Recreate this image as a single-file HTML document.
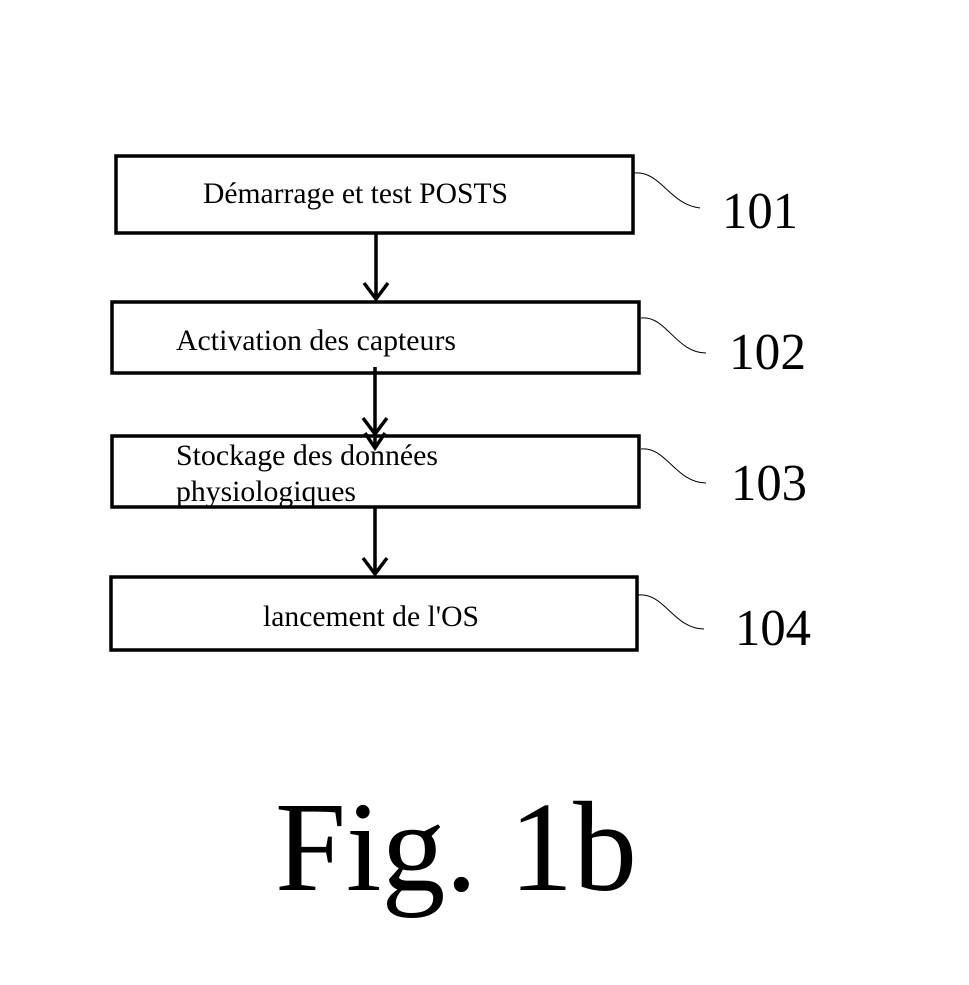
<!DOCTYPE html>
<html><head><style>html,body{margin:0;padding:0;background:#fff}</style></head>
<body>
<svg width="969" height="980" viewBox="0 0 969 980" xmlns="http://www.w3.org/2000/svg" font-family="'Liberation Serif', serif">
<g fill="none" stroke="#000" stroke-width="3.5">
<rect x="116" y="156" width="517" height="77"/>
<rect x="112" y="302" width="527" height="71"/>
<rect x="112" y="436" width="527" height="71"/>
<rect x="111" y="577" width="526" height="73"/>
<line x1="376" y1="233" x2="376" y2="299"/>
<polyline points="364,283 376,299 388,283"/>
<line x1="375" y1="367" x2="375" y2="446"/>
<polyline points="363,418 375,434 387,418"/>
<polyline points="365,433 375,448 385,433"/>
<line x1="375" y1="507" x2="375" y2="574"/>
<polyline points="363,558 375,574 387,558"/>
</g>
<g fill="none" stroke="#000" stroke-width="1">
<path d="M634,173 C660,170 670,205 700,208"/>
<path d="M641,318 C666,315 676,353 706,353"/>
<path d="M641,449 C666,446 676,483 706,483"/>
<path d="M638,595 C664,592 674,629 704,629"/>
</g>
<g fill="#000" font-size="30">
<text x="203" y="203" textLength="305" lengthAdjust="spacingAndGlyphs">Démarrage et test POSTS</text>
<text x="176" y="350" textLength="280" lengthAdjust="spacingAndGlyphs">Activation des capteurs</text>
<text x="176" y="465" textLength="262" lengthAdjust="spacingAndGlyphs">Stockage des données</text>
<text x="176" y="501" textLength="180" lengthAdjust="spacingAndGlyphs">physiologiques</text>
<text x="263" y="626" textLength="216" lengthAdjust="spacingAndGlyphs">lancement de l'OS</text>
</g>
<g fill="#000" font-size="52">
<text x="722" y="228" textLength="76" lengthAdjust="spacingAndGlyphs">101</text>
<text x="729" y="369" textLength="77" lengthAdjust="spacingAndGlyphs">102</text>
<text x="731" y="500" textLength="76" lengthAdjust="spacingAndGlyphs">103</text>
<text x="735" y="645" textLength="76" lengthAdjust="spacingAndGlyphs">104</text>
</g>
<text x="275" y="890" font-size="128" textLength="362" lengthAdjust="spacingAndGlyphs" fill="#000">Fig. 1b</text>
</svg>
</body></html>
